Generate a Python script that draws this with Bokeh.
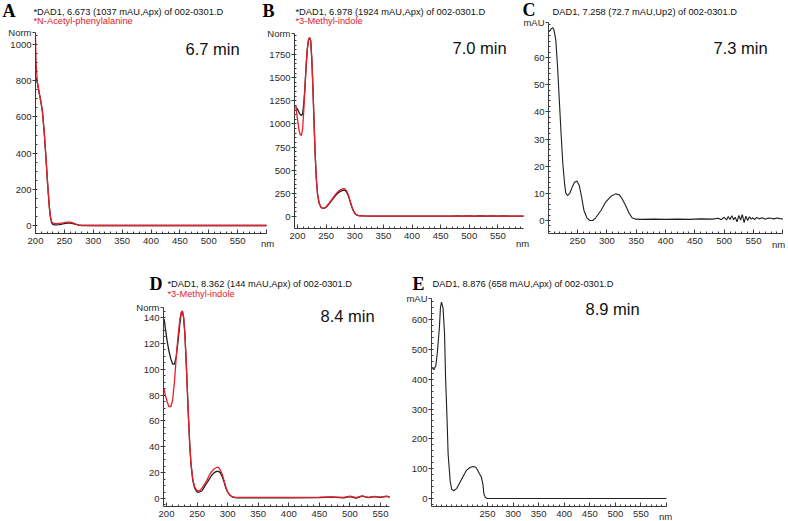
from bokeh.plotting import figure
from bokeh.models import Range1d, FixedTicker, Label, LinearAxis
from bokeh.embed import file_html
from bokeh.resources import INLINE

# ---------------- data ----------------
# Panel A (6.7 min)
wl_A = [200, 201, 203, 206, 209, 212, 215, 218, 221, 224, 226, 228, 230, 233, 236, 240, 245, 250, 255,
        260, 265, 270, 275, 280, 300, 350, 400, 450, 500, 550, 600]
dad_A = [820, 815, 790, 740, 690, 630, 520, 380, 230, 100, 45, 15, 6, 4, 4, 5, 7, 10, 13,
         13, 11, 6, 2, 0, 0, 0, 0, 0, 0, 0, 0]
ref_A = [1040, 900, 800, 740, 690, 630, 520, 380, 230, 100, 45, 20, 14, 11, 10, 11, 13, 16, 18,
         18, 15, 8, 3, 1, 0, 0, 0, 0, 0, 0, 0]

# Panel B (7.0 min)
wl_B = [197, 200, 203, 205, 207, 209, 211, 213, 215, 217, 219, 221, 223, 225, 227, 229, 231, 233, 235,
        238, 241, 244, 247, 250, 255, 260, 265, 270, 275, 280, 283, 286, 289, 292, 295, 298, 301, 304,
        308, 315, 330, 350, 400, 450, 470, 480, 490, 500, 510, 520, 530, 540, 550, 560, 570, 580, 595]
dad_B = [1180, 1160, 1120, 1100, 1090, 1110, 1220, 1400, 1620, 1800, 1900, 1930, 1900, 1700, 1380, 1000, 650, 400, 240,
         140, 100, 88, 90, 100, 135, 175, 215, 250, 272, 285, 282, 262, 220, 160, 100, 55, 28, 14,
         8, 6, 5, 5, 4, 5, 4, 6, 3, 7, 3, 8, 4, 7, 4, 6, 5, 5, 4]
ref_B = [1200, 1050, 920, 880, 880, 950, 1150, 1380, 1620, 1800, 1900, 1935, 1900, 1700, 1380, 1000, 650, 400, 240,
         140, 100, 88, 92, 105, 142, 185, 228, 265, 290, 302, 298, 275, 230, 168, 105, 58, 30, 15,
         9, 6, 5, 5, 4, 5, 4, 6, 3, 8, 2, 9, 4, 7, 3, 6, 5, 4, 4]

# Panel C (7.3 min)
wl_C = [202, 205, 208, 210, 213, 216, 219, 222, 225, 228, 230, 233, 237, 241, 245, 249, 253, 257, 261,
        266, 271, 276, 281, 290, 298, 307, 315, 321, 326, 332, 338, 343, 349, 360, 380, 400, 420, 440,
        460, 480, 490, 495, 500, 504, 507, 510, 513, 516, 519, 522, 525, 528, 531, 534, 537, 540, 543,
        546, 549, 552, 555, 560, 565, 570, 575, 580, 585, 590, 595, 600]
dad_C = [69.5, 70.5, 71.0, 70.0, 66.4, 56.6, 44.3, 32.0, 20.9, 13.5, 10.1, 9.2, 10.1, 12.3, 14.1, 14.5, 12.9, 8.6, 3.7,
         1.0, 0.0, 0.0, 1.0, 3.7, 6.8, 8.9, 9.8, 9.5, 8.0, 5.5, 2.7, 1.0, 0.5, 0.4, 0.5, 0.4, 0.5, 0.4,
         0.6, 0.5, 0.8, 0.3, 1.2, 0.2, 1.5, 0.4, 1.8, 0.3, 1.2, -0.5, 1.9, 0.2, 2.2, -0.8, 1.6, 0.0, 1.4,
         0.5, 1.0, 0.3, 1.1, 0.6, 1.0, 0.5, 0.9, 0.8, 0.6, 0.9, 0.7, 0.6]

# Panel D (8.4 min)
wl_D = [196, 198, 201, 204, 207, 210, 213, 216, 219, 222, 224, 226, 228, 230, 232, 234, 236, 238, 240,
        243, 246, 250, 254, 258, 262, 266, 270, 274, 278, 282, 285, 288, 291, 294, 297, 300, 304, 308,
        312, 316, 320, 330, 350, 400, 450, 470, 490, 500, 510, 520, 530, 540, 550, 560, 565]
dad_D = [139, 132, 122, 114, 108, 104, 104, 110, 122, 136, 143, 145, 140, 128, 108, 85, 62, 42, 27,
         14, 8, 5, 5, 6, 9, 12, 15, 18, 20, 21, 21, 20, 17, 13, 8, 5, 2.5, 1.2,
         0.6, 0.5, 0.5, 0.5, 0.5, 0.5, 0.6, 1.0, 0.5, 1.5, 0.3, 1.8, 0.6, 1.5, 0.8, 1.6, 1.0]
ref_D = [85, 80, 75, 71, 71, 76, 90, 110, 126, 139, 144, 145, 140, 128, 108, 85, 62, 42, 27,
         15, 9, 6, 6, 8, 11, 14, 18, 21, 23, 24, 24, 22, 19, 14, 9, 5, 2.5, 1.2,
         0.8, 0.8, 0.8, 0.8, 0.8, 0.8, 1.0, 1.2, 0.9, 1.8, 0.6, 2.0, 0.9, 1.7, 1.0, 1.8, 1.2]

# Panel E (8.9 min)
wl_E = [142, 145, 149, 152, 156, 158, 160, 163, 166, 168, 171, 173, 177, 180, 184, 190, 196, 203, 209,
        216, 222, 227, 230, 234, 238, 241, 243, 246, 250, 300, 350, 400, 450, 500, 550, 600]
dad_E = [438, 432, 445, 490, 575, 640, 658, 640, 553, 407, 261, 149, 59, 31, 26, 34, 54, 76, 95,
         104, 107, 105, 97, 84, 72, 48, 15, 3, 0, 0, 0, 0, 0, 0, 0, 0]

x_ticks = [200, 250, 300, 350, 400, 450, 500, 550, 600]
titles = ["*DAD1, 6.673 (1037 mAU,Apx) of 002-0301.D",
          "*DAD1, 6.978 (1924 mAU,Apx) of 002-0301.D",
          "DAD1, 7.258 (72.7 mAU,Up2) of 002-0301.D",
          "*DAD1, 8.362 (144 mAU,Apx) of 002-0301.D",
          "DAD1, 8.876 (658 mAU,Apx) of 002-0301.D"]
refs = ["*N-Acetyl-phenylalanine", "*3-Methyl-indole", None, "*3-Methyl-indole", None]
letters = ["A", "B", "C", "D", "E"]
times = ["6.7 min", "7.0 min", "7.3 min", "8.4 min", "8.9 min"]

W, H = 788, 521
RED = "#e3202b"
BLACK = "#1e1e1e"
AX = "#3a3a3a"
SANS = "Liberation Sans"
SERIF = "Liberation Serif"
TICK_FS = "9.5px"
TITLE_FS = "9.3px"

p = figure(width=W, height=H, output_backend="svg", toolbar_location=None,
           x_axis_location=None, y_axis_location=None,
           x_range=Range1d(0, W), y_range=Range1d(H, 0))
p.title = None
p.min_border = 0
p.outline_line_color = None
p.xgrid.visible = False
p.ygrid.visible = False


def add_panel(name, xcal, ycal, yaxis_px, xaxis_py, x_end, y_top, xt, xmin, yt, ymin, ylab):
    """xcal/ycal: two (value, page pixel) calibration pairs; axes placed at page pixels."""
    (xv1, xp1), (xv2, xp2) = xcal
    sx = (xp2 - xp1) / (xv2 - xv1)
    (yv1, yp1), (yv2, yp2) = ycal
    sy = (yp1 - yp2) / (yv2 - yv1)
    p.extra_x_ranges[name + "x"] = Range1d(xv1 - xp1 / sx, xv1 + (W - xp1) / sx)
    p.extra_y_ranges[name + "y"] = Range1d(yv1 - (H - yp1) / sy, yv1 + yp1 / sy)
    x_start = xv1 + (yaxis_px - xp1) / sx
    y_start = yv1 - (xaxis_py - yp1) / sy

    xa = LinearAxis(x_range_name=name + "x", y_range_name=name + "y",
                    fixed_location=y_start, bounds=(x_start, x_end),
                    ticker=FixedTicker(ticks=xt, minor_ticks=xmin),
                    major_label_overrides={600: ""})
    ya = LinearAxis(x_range_name=name + "x", y_range_name=name + "y",
                    fixed_location=x_start, bounds=(y_start, y_top),
                    ticker=FixedTicker(ticks=yt + [y_top], minor_ticks=ymin),
                    major_label_overrides={y_top: ylab})
    for ax in (xa, ya):
        ax.axis_line_color = AX
        ax.major_tick_line_color = AX
        ax.minor_tick_line_color = AX
        ax.major_label_text_font = SANS
        ax.major_label_text_font_size = TICK_FS
        ax.major_label_text_color = "#2a2a2a"
    xa.major_tick_in = 4
    xa.major_tick_out = 0
    xa.minor_tick_in = 2
    xa.minor_tick_out = 0
    xa.major_label_standoff = 4
    ya.major_tick_out = 3
    ya.major_tick_in = 0
    ya.minor_tick_out = 0
    ya.minor_tick_in = 2
    ya.major_label_standoff = 1
    p.add_layout(xa, "below")
    p.add_layout(ya, "left")
    return dict(x_range_name=name + "x", y_range_name=name + "y")


def lab(px, py, text, size, color="#111111", font=SANS, style="normal", align="left"):
    p.add_layout(Label(x=px, y=H - py, x_units="screen", y_units="screen", text=text,
                       text_font=font, text_font_size=size, text_color=color,
                       text_font_style=style, text_align=align, text_baseline="middle"))


# ---------- Panel A ----------
rA = add_panel("A", ((200, 35), (600, 266)), ((0, 225), (1000, 44)), 35, 233, 600, 1066,
               x_ticks, list(range(200, 601, 10)), list(range(0, 1001, 200)), list(range(0, 1051, 50)), "Norm")
p.line(wl_A, dad_A, line_color=BLACK, line_width=1.3, **rA)
p.line(wl_A, ref_A, line_color=RED, line_width=1.3, **rA)
lab(267, 243, "nm", TICK_FS, color="#2a2a2a", align="center")
lab(2, 10, letters[0], "18px", color="#000000", font=SERIF, style="bold")
lab(33, 11, titles[0], TITLE_FS)
lab(33, 20, refs[0], TITLE_FS, color=RED)
lab(185, 48, times[0], "16.5px")

# ---------- Panel B ----------
rB = add_panel("B", ((200, 297), (600, 526)), ((0, 216), (1750, 54)), 294, 228, 595, 1977,
               x_ticks[:-1], list(range(200, 591, 10)), list(range(0, 1751, 250)), list(range(0, 1951, 50)), "Norm")
p.line(wl_B, dad_B, line_color=BLACK, line_width=1.3, **rB)
p.line(wl_B, ref_B, line_color=RED, line_width=1.3, **rB)
lab(522, 243, "nm", TICK_FS, color="#2a2a2a", align="center")
lab(262, 10, letters[1], "18px", color="#000000", font=SERIF, style="bold")
lab(295, 11, titles[1], TITLE_FS)
lab(295, 20, refs[1], TITLE_FS, color=RED)
lab(452, 47, times[1], "16.5px")

# ---------- Panel C ----------
rC = add_panel("C", ((250, 577), (550, 753)), ((0, 220), (60, 57)), 548, 233, 600, 73,
               x_ticks[1:], list(range(200, 601, 10)), list(range(0, 61, 10)), list(range(-4, 73, 2)), "mAU")
p.line(wl_C, dad_C, line_color=BLACK, line_width=1.1, **rC)
lab(778, 244, "nm", TICK_FS, color="#2a2a2a", align="center")
lab(522, 9, letters[2], "18px", color="#000000", font=SERIF, style="bold")
lab(552, 11, titles[2], TITLE_FS)
lab(713, 47, times[2], "16.5px")

# ---------- Panel D ----------
rD = add_panel("D", ((200, 166), (550, 380)), ((0, 498), (140, 317)), 163, 506, 565, 148,
               x_ticks[:-1], list(range(200, 561, 10)), list(range(0, 141, 20)), list(range(-5, 146, 5)), "Norm")
p.line(wl_D, dad_D, line_color=BLACK, line_width=1.3, **rD)
p.line(wl_D, ref_D, line_color=RED, line_width=1.3, **rD)
lab(149, 283, letters[3], "18px", color="#000000", font=SERIF, style="bold")
lab(167, 283, titles[3], TITLE_FS)
lab(167, 293, refs[3], TITLE_FS, color=RED)
lab(320, 315, times[3], "16.5px")

# ---------- Panel E ----------
rE = add_panel("E", ((250, 487), (600, 666)), ((0, 498), (600, 319)), 431, 506, 600, 670,
               x_ticks[1:], list(range(150, 601, 10)), list(range(0, 601, 100)), list(range(-20, 661, 20)), "mAU")
p.line(wl_E, dad_E, line_color=BLACK, line_width=1.1, **rE)
lab(665, 516, "nm", TICK_FS, color="#2a2a2a", align="center")
lab(412, 283, letters[4], "18px", color="#000000", font=SERIF, style="bold")
lab(432, 283, titles[4], TITLE_FS)
lab(585, 308, times[4], "16.5px")

open("out.html", "w").write(file_html(p, INLINE))
